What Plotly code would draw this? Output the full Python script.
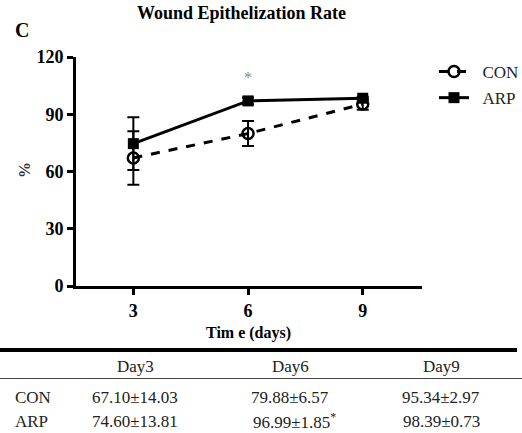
import plotly.graph_objects as go

W, H = 522, 433

days = [3, 6, 9]
day_labels = ["Day3", "Day6", "Day9"]
groups = ["CON", "ARP"]
con_mean = [67.10, 79.88, 95.34]
con_sd = [14.03, 6.57, 2.97]
arp_mean = [74.60, 96.99, 98.39]
arp_sd = [13.81, 1.85, 0.73]
arp_sig = ["", "*", ""]
y_ticks = [0, 30, 60, 90, 120]

# pixel layout of plot area
L, R, T, B = 76, 422, 57, 286

def px(x):
    return x / W

def py(y):
    return 1 - y / H

SERIF = "Liberation Serif, Times New Roman, serif"
NB = "\u00a0"

fig = go.Figure()
fig.add_trace(go.Scatter(
    x=days, y=con_mean, name=NB * 2 + "CON", mode="lines+markers", legendgroup="a",
    line=dict(color="black", width=3, dash="dash"),
    marker=dict(symbol="circle-open", size=11, color="black", line=dict(width=2.5, color="black")),
    error_y=dict(type="data", array=con_sd, visible=True, color="black", thickness=2, width=6),
))
fig.add_trace(go.Scatter(
    x=days, y=arp_mean, name=NB * 2 + "ARP", mode="lines+markers", legendgroup="b",
    line=dict(color="black", width=3),
    marker=dict(symbol="square", size=11, color="black"),
    error_y=dict(type="data", array=arp_sd, visible=True, color="black", thickness=2, width=6),
))

def note(x, y, text, font, **kw):
    d = dict(x=px(x), y=py(y), xref="paper", yref="paper", text=text, showarrow=False,
             xanchor="center", yanchor="middle", font=font)
    d.update(kw)
    return d

ann = []
# significance star above day6
ann.append(dict(x=6, y=109, xref="x", yref="y", text="*", showarrow=False,
                xanchor="center", yanchor="middle",
                font=dict(family=SERIF, size=16, color="#888888")))
ann.append(note(22, 30, "<b>C</b>", dict(family=SERIF, size=20, color="black")))
ann.append(note(241, 13, "<b>Wound Epithelization Rate</b>", dict(family=SERIF, size=18, color="black")))
ann.append(note(24, 170, "<b>%</b>", dict(family=SERIF, size=16, color="#333333"), textangle=-90))
ann.append(note(248, 333, "<b>Tim e (days)</b>", dict(family=SERIF, size=16, color="black")))

# table
col_x = [135, 290, 441]
row_y = {"head": 366, "CON": 397, "ARP": 421}
tfont = dict(family=SERIF, size=17, color="#222222")
for i, lab in enumerate(day_labels):
    ann.append(note(col_x[i], row_y["head"], lab, tfont))
for g, means, sds, sig in [("CON", con_mean, con_sd, ["", "", ""]), ("ARP", arp_mean, arp_sd, arp_sig)]:
    ann.append(note(13, row_y[g], g, tfont, xanchor="left"))
    for i in range(3):
        txt = f"{means[i]:.2f}±{sds[i]:.2f}"
        if sig[i]:
            txt += f"<sup>{sig[i]}</sup>"
        ann.append(note(col_x[i] + (4 if sig[i] else 0), row_y[g], txt, tfont))

shapes = [
    dict(type="line", xref="paper", yref="paper", x0=0, x1=px(517), y0=py(350), y1=py(350),
         line=dict(color="black", width=4)),
    dict(type="line", xref="paper", yref="paper", x0=0, x1=1, y0=py(378.5), y1=py(378.5),
         line=dict(color="#444444", width=1)),
]

axis_common = dict(showgrid=False, zeroline=False, showline=True, linecolor="black", linewidth=3,
                   ticks="outside", ticklen=6, tickwidth=3, tickcolor="black",
                   tickfont=dict(family=SERIF, size=18, color="black"))

fig.update_layout(
    width=W, height=H, margin=dict(l=0, r=0, t=0, b=0, autoexpand=False),
    paper_bgcolor="white", plot_bgcolor="white",
    xaxis=dict(domain=[L / W, R / W], range=[1.5, 10.55], tickvals=days,
               ticktext=[f"<b>{d}</b>" for d in days], ticklabelstandoff=0, **axis_common),
    yaxis=dict(domain=[1 - B / H, 1 - T / H], range=[0, 120], tickvals=y_ticks,
               ticktext=[f"<b>{t}</b>" for t in y_ticks], **axis_common),
    showlegend=True,
    legend=dict(x=px(434), y=py(54), xanchor="left", yanchor="top", itemwidth=30,
                font=dict(family=SERIF, size=17, color="#222222"), bgcolor="rgba(0,0,0,0)",
                tracegroupgap=1),
    annotations=ann, shapes=shapes,
)

fig.write_html("out.html")
